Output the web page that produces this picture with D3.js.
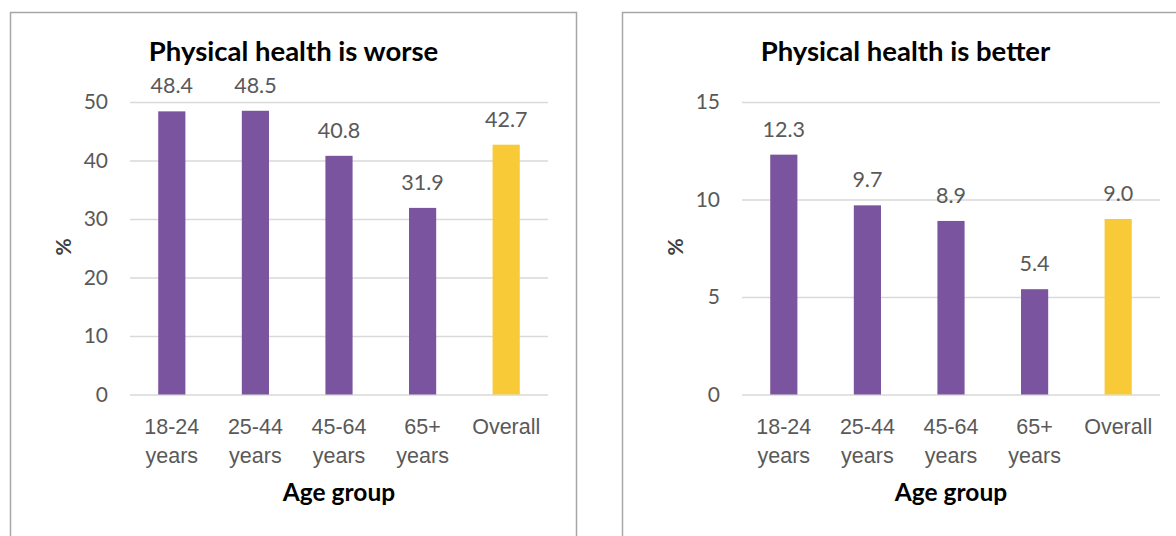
<!DOCTYPE html>
<html>
<head>
<meta charset="utf-8">
<script src="https://cdn.jsdelivr.net/npm/d3@7"></script>
<style>
  html, body { margin: 0; padding: 0; background: #ffffff; }
  svg { display: block; font-family: Lato, "Open Sans", sans-serif; }
</style>
</head>
<body>
<svg id="chart" width="1176" height="536"></svg>
<script>
// Age groups shown along the x axis of both panels
const categories = ["18-24 years", "25-44 years", "45-64 years", "65+ years", "Overall"];

// Share of respondents (%) reporting worse / better physical health
const worseValues = [48.4, 48.5, 40.8, 31.9, 42.7];
const betterValues = [12.3, 9.7, 8.9, 5.4, 9.0];

// Value-axis ticks for each panel
const worseTicks = [0, 10, 20, 30, 40, 50];
const betterTicks = [0, 5, 10, 15];

const panelTitles = ["Physical health is worse", "Physical health is better"];
const xAxisTitle = "Age group";
const yAxisTitle = "%";

const purple = "#7b549f";
const yellow = "#f8ca38";
const textGrey = "#595959";
const gridGrey = "#d9d9d9";

const svg = d3.select("#chart");
svg.append("rect").attr("width", 1176).attr("height", 536).attr("fill", "#ffffff");

function drawPanel(offsetX, title, values, ticks) {
  const g = svg.append("g").attr("transform", `translate(${offsetX},0)`);

  // chart-area frame
  g.append("rect")
    .attr("x", 0.5).attr("y", 12.5)
    .attr("width", 566).attr("height", 600)
    .attr("fill", "none")
    .attr("stroke", "#a6a6a6")
    .attr("stroke-width", 1.5);

  const plot = { left: 120, right: 538, top: 102, bottom: 394.5 };

  const x = d3.scaleBand()
    .domain(categories)
    .range([plot.left, plot.right])
    .padding(0);

  const y = d3.scaleLinear()
    .domain([0, d3.max(ticks)])
    .range([plot.bottom, plot.top]);

  // horizontal gridlines + tick labels
  const yAxis = g.append("g")
    .attr("transform", `translate(${plot.left},0)`)
    .call(d3.axisLeft(y)
      .tickValues(ticks)
      .tickSize(-(plot.right - plot.left))
      .tickPadding(22)
      .tickFormat(d3.format("d")));
  yAxis.select(".domain").remove();
  yAxis.selectAll(".tick line")
    .attr("stroke", gridGrey)
    .attr("stroke-width", 1.5);
  yAxis.selectAll(".tick text")
    .attr("fill", textGrey)
    .attr("font-size", 21)
    .attr("font-family", "Lato, sans-serif");

  // bars
  const barW = x.bandwidth() * 0.325;
  g.selectAll("rect.bar")
    .data(values)
    .join("rect")
    .attr("class", "bar")
    .attr("x", (d, i) => x(categories[i]) + (x.bandwidth() - barW) / 2)
    .attr("y", d => y(d))
    .attr("width", barW)
    .attr("height", d => y(0) - y(d))
    .attr("fill", (d, i) => categories[i] === "Overall" ? yellow : purple);

  // value labels
  g.selectAll("text.val")
    .data(values)
    .join("text")
    .attr("class", "val")
    .attr("x", (d, i) => x(categories[i]) + x.bandwidth() / 2)
    .attr("y", d => y(d) - 18)
    .attr("text-anchor", "middle")
    .attr("fill", textGrey)
    .attr("font-size", 21.5)
    .text(d => d3.format(".1f")(d));

  // category axis with two-line labels
  const xAxis = g.append("g")
    .attr("transform", `translate(0,${plot.bottom})`)
    .call(d3.axisBottom(x).tickSize(0).tickFormat(""));
  xAxis.select(".domain").remove();
  xAxis.selectAll(".tick text").remove();
  xAxis.selectAll(".tick")
    .append("text")
    .attr("text-anchor", "middle")
    .attr("fill", textGrey)
    .attr("font-size", 21.5)
    .selectAll("tspan")
    .data(d => d.split(" "))
    .join("tspan")
    .attr("x", 0)
    .attr("y", (d, i) => 39 + i * 29)
    .text(d => d);

  // panel title
  g.append("text")
    .attr("x", 283.5)
    .attr("y", 61)
    .attr("text-anchor", "middle")
    .attr("font-weight", "bold")
    .attr("font-size", 27.5)
    .attr("fill", "#000000")
    .text(title);

  // axis titles
  g.append("text")
    .attr("x", (plot.left + plot.right) / 2)
    .attr("y", 501)
    .attr("text-anchor", "middle")
    .attr("font-weight", "bold")
    .attr("font-size", 24.5)
    .attr("fill", "#000000")
    .text(xAxisTitle);

  g.append("text")
    .attr("transform", `translate(61,247) rotate(-90)`)
    .attr("text-anchor", "middle")
    .attr("font-weight", "bold")
    .attr("font-size", 21)
    .attr("fill", "#404040")
    .text(yAxisTitle);
}

drawPanel(10, panelTitles[0], worseValues, worseTicks);
drawPanel(622, panelTitles[1], betterValues, betterTicks);
</script>
</body>
</html>
